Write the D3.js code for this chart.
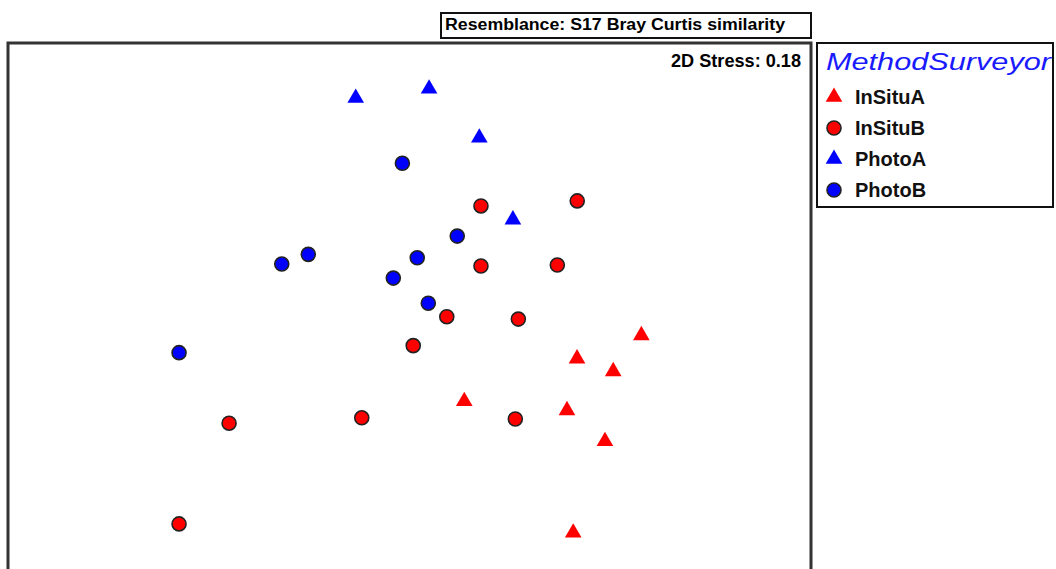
<!DOCTYPE html>
<html>
<head>
<meta charset="utf-8">
<script src="https://cdn.jsdelivr.net/npm/d3@7"></script>
<style>
  body { margin: 0; background: #fff; }
  text { font-family: "Liberation Sans", Arial, sans-serif; }
</style>
</head>
<body>
<script>
// nMDS ordination, coordinates (arbitrary MDS units)
var groups = ["InSituA", "InSituB", "PhotoA", "PhotoB"];
var groupColor = ["#ff0000", "#ff0000", "#0000ff", "#0000ff"];
var groupShape = ["triangle", "circle", "triangle", "circle"];

var inSituAX = [1.151, 0.831, 1.011, 0.270, 0.781, 0.970, 0.812];
var inSituAY = [-0.176, -0.292, -0.355, -0.504, -0.549, -0.703, -1.158];

var inSituBX = [0.353, 0.832, 0.353, 0.733, 0.183, 0.539, 0.016, -0.900, -0.240, 0.524, -1.149];
var inSituBY = [0.468, 0.493, 0.169, 0.174, -0.083, -0.095, -0.227, -0.613, -0.586, -0.592, -1.114];

var photoAX = [-0.270, 0.095, 0.345, 0.512];
var photoAY = [1.005, 1.051, 0.807, 0.400];

var photoBX = [-0.038, 0.235, -0.506, -0.638, 0.036, -0.083, 0.091, -1.149];
var photoBY = [0.680, 0.318, 0.227, 0.179, 0.210, 0.109, -0.016, -0.262];

var resemblance = "Resemblance: S17 Bray Curtis similarity";
var stress = "2D Stress: 0.18";
var legendTitle = "MethodSurveyor";

var width = 1056, height = 569;

//build one list of points from the arrays
var xs = [inSituAX, inSituBX, photoAX, photoBX],
    ys = [inSituAY, inSituBY, photoAY, photoBY];
var points = [];
groups.forEach(function(g, i){
    xs[i].forEach(function(x, j){
        points.push({group: i, x: x, y: ys[i][j]});
    });
});

var svg = d3.select("body")
    .append("svg")
    .attr("width", width)
    .attr("height", height);

//plot frame, the bottom runs off the picture
var frame = {left: 8, top: 43, right: 811, bottom: 600};

var x = d3.scaleLinear().domain([-2, 2]).range([8, 812]);
var y = d3.scaleLinear().domain([1.3, -1.3]).range([38.7, 561.3]);

svg.append("rect")
    .attr("x", frame.left)
    .attr("y", frame.top)
    .attr("width", frame.right - frame.left)
    .attr("height", frame.bottom - frame.top)
    .attr("fill", "none")
    .attr("stroke", "#333")
    .attr("stroke-width", 3);

//resemblance label box
svg.append("rect")
    .attr("x", 441)
    .attr("y", 13)
    .attr("width", 370)
    .attr("height", 25)
    .attr("fill", "#fff")
    .attr("stroke", "#111")
    .attr("stroke-width", 2);

svg.append("text")
    .attr("x", 445)
    .attr("y", 30)
    .attr("font-size", 16)
    .attr("font-weight", "bold")
    .attr("textLength", 340)
    .attr("lengthAdjust", "spacingAndGlyphs")
    .text(resemblance);

svg.append("text")
    .attr("x", 801)
    .attr("y", 67)
    .attr("text-anchor", "end")
    .attr("font-size", 18)
    .attr("font-weight", "bold")
    .attr("textLength", 130)
    .attr("lengthAdjust", "spacingAndGlyphs")
    .text(stress);

var tri = d3.symbol().type(d3.symbolTriangle).size(120);

function drawMarker(sel, gi){
    if (groupShape[gi] === "triangle") {
        sel.append("path")
            .attr("d", tri)
            .attr("fill", groupColor[gi]);
    } else {
        sel.append("circle")
            .attr("r", 7)
            .attr("fill", groupColor[gi])
            .attr("stroke", "#222")
            .attr("stroke-width", 1.6);
    }
}

var marks = svg.selectAll(".pt")
    .data(points)
    .enter()
    .append("g")
    .attr("class", "pt")
    .attr("transform", function(d){ return "translate(" + x(d.x) + "," + y(d.y) + ")"; });

marks.each(function(d){ drawMarker(d3.select(this), d.group); });

//legend
var legend = svg.append("g");

legend.append("rect")
    .attr("x", 817)
    .attr("y", 43)
    .attr("width", 236)
    .attr("height", 164)
    .attr("fill", "#fff")
    .attr("stroke", "#111")
    .attr("stroke-width", 2);

legend.append("text")
    .attr("x", 826)
    .attr("y", 70)
    .attr("font-size", 24)
    .attr("font-style", "italic")
    .attr("fill", "#1a1aff")
    .attr("textLength", 225)
    .attr("lengthAdjust", "spacingAndGlyphs")
    .text(legendTitle);

var items = legend.selectAll(".item")
    .data(groups)
    .enter()
    .append("g")
    .attr("class", "item")
    .attr("transform", function(d, i){ return "translate(834," + (97 + i * 31) + ")"; });

items.each(function(d, i){ drawMarker(d3.select(this), i); });

items.append("text")
    .attr("x", 21)
    .attr("y", 7)
    .attr("font-size", 20)
    .attr("font-weight", "bold")
    .attr("fill", "#111")
    .text(function(d){ return d; });
</script>
</body>
</html>
